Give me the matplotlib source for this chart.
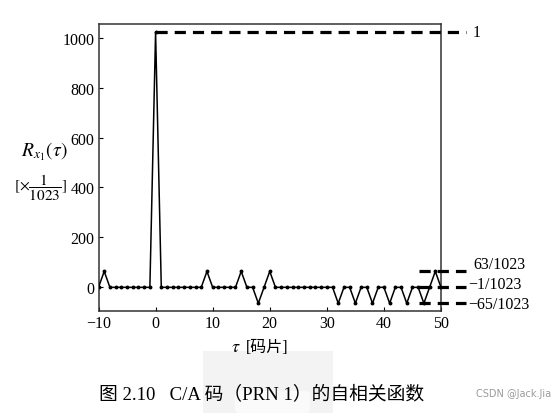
import matplotlib
matplotlib.use("Agg")
import matplotlib.pyplot as plt
from matplotlib.patches import FancyBboxPatch, Rectangle

# ---- data ----
tau = list(range(-10, 51))
# autocorrelation values (×1/1023)
special = {-9: 63, 0: 1023, 9: 63, 15: 63, 18: -65, 20: 63,
           32: -65, 35: -65, 38: -65, 41: -65, 44: -65, 47: -65, 49: 63}
R = [special.get(t, -1) for t in tau]

ref_levels = [63, -1, -65]
ref_labels = ["63/1023", "\u22121/1023", "\u221265/1023"]
peak_level = 1023
peak_label = "1"
xticks = [-10, 0, 10, 20, 30, 40, 50]
yticks = [0, 200, 400, 600, 800, 1000]

plt.rcParams['font.family'] = ['Liberation Serif', 'DejaVu Serif']
plt.rcParams['mathtext.fontset'] = 'stix'

fig = plt.figure(figsize=(5.53, 4.14), dpi=100)
fig.patch.set_facecolor('white')

# faint watermark box behind caption
fig.patches.append(Rectangle((203/553, 0), (333-203)/553, (414-352)/414,
                             transform=fig.transFigure, facecolor='#f3f3f3',
                             edgecolor='none', zorder=0))
fig.patches.append(FancyBboxPatch((235/553, 0), (310-235)/553, (414-392)/414,
                                  boxstyle="round,pad=0,rounding_size=0.01",
                                  transform=fig.transFigure, facecolor='#fafafa',
                                  edgecolor='none', zorder=0))

ax = fig.add_axes([98.5/553, 102/414, (441-98.5)/553, (389-102)/414])
ax.set_facecolor('none')
ax.plot(tau, R, color='black', lw=1.1, marker='o', ms=1.8, zorder=3)

ax.set_xlim(-10, 50)
ax.set_ylim(-96, 1056)
ax.set_xticks(xticks)
ax.set_yticks(yticks)
ax.set_xticklabels(["\u221210" if v < 0 else str(v) for v in xticks])
ax.tick_params(direction='in', length=3, width=0.8, labelsize=11.5, pad=3)
for s in ax.spines.values():
    s.set_linewidth(1.1)
    s.set_color('#333333')

dash = dict(color='black', lw=2.3, ls=(0, (3.5, 2.2)), clip_on=False, zorder=4)
# peak reference line
ax.plot([0, 54.3], [peak_level, peak_level], **dash)
ax.text(55.6, peak_level, peak_label, fontsize=11.5, va='center', ha='left')
# small-level reference lines
offsets = [28, 12, -4]
for lev, lab, off in zip(ref_levels, ref_labels, offsets):
    ax.plot([46.1, 54.3], [lev, lev], **dash)
    ax.text(55.6 if lev > 0 else 54.8, lev + off, lab,
            fontsize=11.5, va='center', ha='left')

# y-axis label
fig.text(44/553, 1 - 152/414, r"$R_{x_1}(\tau)$", fontsize=14, ha='center', va='center')
fig.text(40/553, 1 - 188/414, r"$[\times\dfrac{1}{1023}]$", fontsize=11, ha='center', va='center')

# x-axis label
fig.text(236/553, 1 - 348/414, r"$\tau$", fontsize=13, ha='center', va='center')
fig.text(246/553, 1 - 348/414, "[码片]", fontsize=11.5, ha='left', va='center',
         family=['Liberation Serif', 'Noto Sans CJK SC'])

# caption
fig.text(262/553, 1 - 394/414, "图 2.10   C/A 码（PRN 1）的自相关函数", fontsize=13.5,
         ha='center', va='center', family=['Liberation Serif', 'Noto Sans CJK SC'])

# watermark
fig.text(551/553, 1 - 394/414, "CSDN @Jack.Jia", fontsize=7, color='#9a9a9a',
         ha='right', va='center', family='DejaVu Sans')

fig.savefig("out.png", dpi=100, facecolor='white')
